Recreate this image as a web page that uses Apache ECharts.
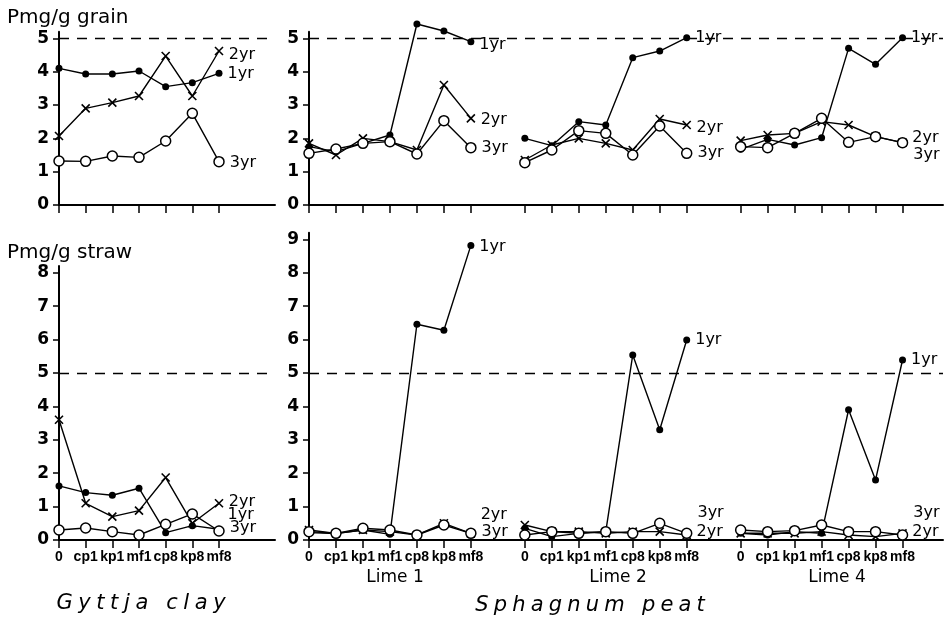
<!DOCTYPE html>
<html><head><meta charset="utf-8">
<script src="https://cdn.jsdelivr.net/npm/echarts@6/dist/echarts.min.js"></script>
<style>html,body{margin:0;padding:0;background:#fff}#c{width:947px;height:624px}</style>
</head><body><div id="c"></div>
<script>
// ---------------- data ----------------
const treatments = ['0', 'cp1', 'kp1', 'mf1', 'cp8', 'kp8', 'mf8'];
const limeGroups = ['Lime 1', 'Lime 2', 'Lime 4'];
const yearNames = ['1yr', '2yr', '3yr'];
const yTicksGrain = [0, 1, 2, 3, 4, 5];
const yTicksStrawClay = [0, 1, 2, 3, 4, 5, 6, 7, 8];
const yTicksStrawPeat = [0, 1, 2, 3, 4, 5, 6, 7, 8, 9];
const limitValue = 5;

// Gyttja clay – P mg/g grain
const clayGrain1yr = [4.1, 3.93, 3.93, 4.02, 3.55, 3.67, 3.95];
const clayGrain2yr = [2.07, 2.9, 3.07, 3.27, 4.47, 3.27, 4.62];
const clayGrain3yr = [1.32, 1.31, 1.47, 1.43, 1.92, 2.75, 1.3];
// Sphagnum peat – P mg/g grain   [Lime 1, Lime 2, Lime 4]
const peatGrain1yr = [[1.75, 1.6, 1.85, 2.1, 5.43, 5.22, 4.9], [2.0, 1.78, 2.5, 2.4, 4.42, 4.62, 5.02], [1.67, 1.97, 1.8, 2.02, 4.7, 4.22, 5.02]];
const peatGrain2yr = [[1.85, 1.5, 2.0, 1.9, 1.65, 3.6, 2.6], [1.35, 1.8, 2.0, 1.85, 1.65, 2.58, 2.4], [1.93, 2.1, 2.15, 2.5, 2.4, 2.05, 1.87]];
const peatGrain3yr = [[1.55, 1.68, 1.85, 1.9, 1.53, 2.53, 1.72], [1.27, 1.65, 2.23, 2.15, 1.5, 2.37, 1.55], [1.75, 1.72, 2.15, 2.6, 1.88, 2.05, 1.87]];
// Gyttja clay – P mg/g straw
const clayStraw1yr = [1.62, 1.42, 1.34, 1.55, 0.22, 0.43, 0.32];
const clayStraw2yr = [3.6, 1.1, 0.7, 0.88, 1.87, 0.5, 1.1];
const clayStraw3yr = [0.3, 0.36, 0.25, 0.15, 0.47, 0.78, 0.27];
// Sphagnum peat – P mg/g straw   [Lime 1, Lime 2, Lime 4]
const peatStraw1yr = [[0.22, 0.19, 0.3, 0.17, 6.46, 6.28, 8.82], [0.35, 0.1, 0.2, 0.25, 5.54, 3.3, 5.99], [0.2, 0.15, 0.25, 0.2, 3.9, 1.8, 5.39]];
const peatStraw2yr = [[0.3, 0.2, 0.3, 0.25, 0.15, 0.5, 0.2], [0.45, 0.25, 0.25, 0.2, 0.25, 0.25, 0.15], [0.2, 0.2, 0.2, 0.25, 0.15, 0.1, 0.2]];
const peatStraw3yr = [[0.25, 0.2, 0.35, 0.3, 0.15, 0.45, 0.2], [0.15, 0.25, 0.2, 0.25, 0.2, 0.5, 0.2], [0.3, 0.25, 0.28, 0.45, 0.25, 0.25, 0.15]];

// ---------------- layout / style ----------------
const FONT = 'DejaVu Sans';
const SLOT = treatments.length + 1; // gap of one slot between lime groups
const clayPos = treatments.map((t, i) => i);
const peatPos = [];
limeGroups.forEach((g, gi) => treatments.forEach((t, i) => peatPos.push(gi * SLOT + i)));
const labelOf = v => treatments[Math.round(v) % SLOT] || '';

const symStyles = {
  '1yr': { symbol: 'circle', symbolSize: 7, itemStyle: { color: '#000', borderColor: '#000', borderWidth: 0 } },
  '2yr': { symbol: 'path://M0,0L10,10M10,0L0,10', symbolSize: 8, itemStyle: { color: 'rgba(0,0,0,0)', borderColor: '#000', borderWidth: 1.6 } },
  '3yr': { symbol: 'circle', symbolSize: 10, itemStyle: { color: '#fff', borderColor: '#000', borderWidth: 1.5 } }
};

// end-label offsets  [panel][group][year]
const labelOffsets = {
  clayGrain: [[[0, 0], [0, 4], [0, 1]]],
  peatGrain: [[[0, 3], [0, 2], [0, 0]], [[0, 0], [0, 3], [0, 0]], [[0, 0], [0, -5], [0, 12]]],
  clayStraw: [[[0, -14], [0, -1], [0, -3]]],
  peatStraw: [[[0, 1], [0, -18], [0, -1]], [[0, 0], [0, -3], [0, -20]], [[0, 0], [0, -1], [0, -22]]]
};

function mkSeries(values, positions, axisIdx, year, offset, labelSize, withMark) {
  const st = symStyles[year];
  const n = values.length;
  const useBg = year === '1yr' && axisIdx !== 2;
  const data = values.map((v, i) => {
    const d = { value: [positions[i], v] };
    if (i === n - 1) {
      d.label = {
        show: true, formatter: year, position: 'right', distance: 4, offset: offset,
        color: '#000', fontFamily: FONT, fontSize: labelSize,
        backgroundColor: useBg ? '#fff' : 'transparent', padding: [0, 1, 0, 1]
      };
    }
    return d;
  });
  const s = {
    type: 'line', xAxisIndex: axisIdx, yAxisIndex: axisIdx, data: data,
    symbol: st.symbol, symbolSize: st.symbolSize, itemStyle: st.itemStyle,
    lineStyle: { color: '#000', width: 1.4 }, showSymbol: true,
    z: year === '3yr' ? 4 : 3, animation: false, silent: true, clip: false
  };
  if (withMark) {
    s.markLine = {
      silent: true, symbol: ['none', 'none'], label: { show: false },
      lineStyle: { color: '#000', type: [10, 8], width: 1.4 },
      data: [{ yAxis: limitValue }], animation: false
    };
  }
  return s;
}

const series = [];
function addPanel(axisIdx, arrays, positionsByGroup, offsetKey, labelSize) {
  arrays.forEach((groups, yi) => {
    groups.forEach((vals, gi) => {
      series.push(mkSeries(vals, positionsByGroup[gi], axisIdx, yearNames[yi],
        labelOffsets[offsetKey][gi][yi], labelSize, yi === 0 && gi === 0));
    });
  });
}
const peatPosByGroup = limeGroups.map((g, gi) => peatPos.slice(gi * treatments.length, (gi + 1) * treatments.length));
addPanel(0, [[clayGrain1yr], [clayGrain2yr], [clayGrain3yr]], [clayPos], 'clayGrain', 16);
addPanel(1, [peatGrain1yr, peatGrain2yr, peatGrain3yr], peatPosByGroup, 'peatGrain', 16);
addPanel(2, [[clayStraw1yr], [clayStraw2yr], [clayStraw3yr]], [clayPos], 'clayStraw', 16);
addPanel(3, [peatStraw1yr, peatStraw2yr, peatStraw3yr], peatPosByGroup, 'peatStraw', 16);

const TOP0 = 205, UT = 33.33, BOT0 = 540, UB = 33.4;
const grids = [
  { left: 59, top: TOP0 - 5.2 * UT, width: 216, height: 5.2 * UT },
  { left: 309, top: TOP0 - 5.2 * UT, width: 634, height: 5.2 * UT },
  { left: 59, top: BOT0 - 8.2 * UB, width: 216, height: 8.2 * UB },
  { left: 309, top: BOT0 - 9.2 * UB, width: 634, height: 9.2 * UB }
];

function xAx(gi, maxV, ticks, showLabels) {
  return {
    type: 'value', gridIndex: gi, min: 0, max: maxV,
    axisLine: { show: true, onZero: false, lineStyle: { color: '#000', width: 2 } },
    axisTick: { show: true, customValues: ticks, length: 8, lineStyle: { color: '#000', width: 1.5 } },
    axisLabel: {
      show: showLabels, customValues: ticks, formatter: labelOf, margin: 10, hideOverlap: false,
      color: '#000', fontFamily: 'Liberation Sans', fontWeight: 'bold', fontSize: 14
    },
    splitLine: { show: false }
  };
}
function yAx(gi, maxV, ticks) {
  return {
    type: 'value', gridIndex: gi, min: 0, max: maxV,
    axisLine: { show: true, onZero: false, lineStyle: { color: '#000', width: 2 } },
    axisTick: { show: true, customValues: ticks, length: 6, lineStyle: { color: '#000', width: 1.5 } },
    axisLabel: { customValues: ticks, margin: 10, color: '#000', fontFamily: FONT, fontWeight: 'bold', fontSize: 17 },
    splitLine: { show: false }
  };
}

function spaced(text, size, pad) {
  const rich = {
    l: { fontFamily: FONT, fontSize: size, fontStyle: 'italic', fill: '#000', color: '#000', padding: [0, pad, 0, pad] }
  };
  const str = text.split('').map(c => c === ' ' ? '{l|\u00a0}' : '{l|' + c + '}').join('');
  return { str, rich };
}
const gy = spaced('Gyttja clay', 21, 2.8);
const sp = spaced('Sphagnum peat', 21, 2.6);

const option = {
  animation: false,
  backgroundColor: '#fff',
  grid: grids,
  xAxis: [xAx(0, 8.1, clayPos, false), xAx(1, 23.5, peatPos, false), xAx(2, 8.1, clayPos, true), xAx(3, 23.5, peatPos, true)],
  yAxis: [yAx(0, 5.2, yTicksGrain), yAx(1, 5.2, yTicksGrain), yAx(2, 8.2, yTicksStrawClay), yAx(3, 9.2, yTicksStrawPeat)],
  series: series,
  graphic: [
    { type: 'text', x: 7, y: 18, style: { text: 'Pmg/g grain', font: '20px ' + FONT, fill: '#000', verticalAlign: 'middle', textVerticalAlign: 'middle' } },
    { type: 'text', x: 7, y: 253, style: { text: 'Pmg/g straw', font: '20px ' + FONT, fill: '#000', verticalAlign: 'middle', textVerticalAlign: 'middle' } },
    { type: 'text', x: 395, y: 578, style: { text: limeGroups[0], font: '17px ' + FONT, fill: '#000', align: 'center', textAlign: 'center', verticalAlign: 'middle', textVerticalAlign: 'middle' } },
    { type: 'text', x: 618, y: 578, style: { text: limeGroups[1], font: '17px ' + FONT, fill: '#000', align: 'center', textAlign: 'center', verticalAlign: 'middle', textVerticalAlign: 'middle' } },
    { type: 'text', x: 837, y: 578, style: { text: limeGroups[2], font: '17px ' + FONT, fill: '#000', align: 'center', textAlign: 'center', verticalAlign: 'middle', textVerticalAlign: 'middle' } },
    { type: 'text', x: 141, y: 604, style: { text: gy.str, rich: gy.rich, font: 'italic 21px ' + FONT, fill: '#000', align: 'center', textAlign: 'center', verticalAlign: 'middle', textVerticalAlign: 'middle' } },
    { type: 'text', x: 590, y: 606, style: { text: sp.str, rich: sp.rich, font: 'italic 21px ' + FONT, fill: '#000', align: 'center', textAlign: 'center', verticalAlign: 'middle', textVerticalAlign: 'middle' } }
  ]
};
const chart = echarts.init(document.getElementById('c'), null, { renderer: 'canvas' });
chart.setOption(option);
</script></body></html>
